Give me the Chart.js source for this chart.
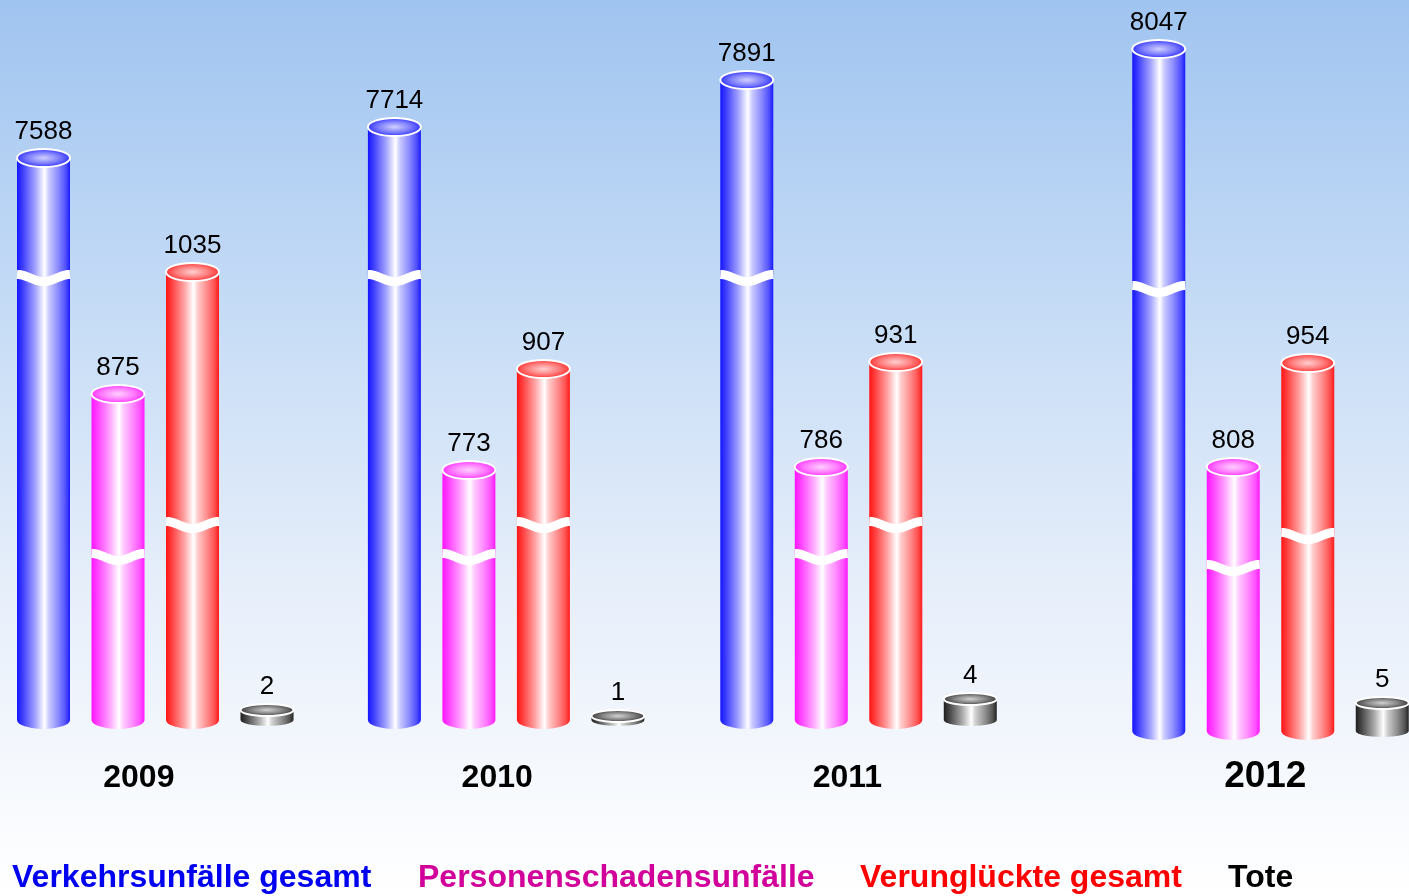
<!DOCTYPE html>
<html lang="de">
<head>
<meta charset="utf-8">
<title>Verkehrsunfälle 2009 - 2012</title>
<script src="https://cdn.jsdelivr.net/npm/chart.js@4"></script>
<style>
    html, body { margin: 0; padding: 0; background: #ffffff; overflow: hidden; }
    #unfallChart { display: block; }
</style>
</head>
<body>
<canvas id="unfallChart" width="1409" height="896"></canvas>
<script>
// Werte (Beschriftungen) je Jahr
const years = ['2009', '2010', '2011', '2012'];
const verkehrsunfaelle = [7588, 7714, 7891, 8047];
const personenschaden = [875, 773, 786, 808];
const verunglueckte = [1035, 907, 931, 954];
const tote = [2, 1, 4, 5];

// gezeichnete Säulenhöhen auf der unterbrochenen Achse (nicht maßstäblich)
const hoeheVerkehr = [562, 593, 640, 682];
const hoehePerson = [326, 250, 253, 264];
const hoeheVerungl = [448, 351, 358, 368];
const hoeheTote = [10, 4, 21, 28];

// Höhe der weißen Achsenbruch-Markierung je Reihe (gleiche Einheit)
const bruchHoehe = [442, 163, 195, null];

// Layout: Lage der Gruppen auf der x-Achse (eine Einheit = eine Säulenbreite + Abstand)
const groupStart = [0, 4.71, 9.44, 14.97];
const groupBase = [0, 0, 0, -11];
const yearShift = [1.28, 1.38, 1.35, 1.43];
const yearFontSize = [32, 32, 32, 37];

const series = [
    { label: 'Verkehrsunfälle gesamt', values: verkehrsunfaelle, heights: hoeheVerkehr, color: [20, 20, 255], text: '#0000f0', legendX: 12 },
    { label: 'Personenschadensunfälle', values: personenschaden, heights: hoehePerson, color: [255, 20, 255], text: '#d2009a', legendX: 418 },
    { label: 'Verunglückte gesamt', values: verunglueckte, heights: hoeheVerungl, color: [255, 20, 20], text: '#ff0000', legendX: 860 },
    { label: 'Tote', values: tote, heights: hoeheTote, color: [30, 30, 30], text: '#000000', legendX: 1228 }
];

function mix(c, t) {
    // Farbe c mit Weiß mischen, t = Anteil Weiß
    const r = Math.round(c[0] + (255 - c[0]) * t);
    const g = Math.round(c[1] + (255 - c[1]) * t);
    const b = Math.round(c[2] + (255 - c[2]) * t);
    return `rgb(${r}, ${g}, ${b})`;
}

/**
 * Zeichnet eine Säule als Zylinder mit Deckel, Boden und Bruchmarke
 */
function drawCylinder(ctx, cx, top, base, w, color, ry, breakY) {
    const rx = w / 2;
    const left = cx - rx;
    const right = cx + rx;

    // Mantel
    const grad = ctx.createLinearGradient(left, 0, right, 0);
    grad.addColorStop(0, mix(color, 0));
    grad.addColorStop(0.12, mix(color, 0.2));
    grad.addColorStop(0.35, mix(color, 0.62));
    grad.addColorStop(0.52, mix(color, 1));
    grad.addColorStop(0.6, mix(color, 0.78));
    grad.addColorStop(0.78, mix(color, 0.5));
    grad.addColorStop(0.92, mix(color, 0.25));
    grad.addColorStop(1, mix(color, 0.02));
    ctx.beginPath();
    ctx.moveTo(left, top);
    ctx.lineTo(left, base);
    ctx.ellipse(cx, base, rx, ry, 0, Math.PI, 0, true);
    ctx.lineTo(right, top);
    ctx.closePath();
    ctx.fillStyle = grad;
    ctx.fill();

    // Achsenbruch
    if (breakY !== null) {
        ctx.beginPath();
        for (let i = 0; i <= 30; i++) {
            const t = i / 30;
            const x = left + t * w;
            const y = breakY - 3.5 * Math.cos(2 * Math.PI * t);
            if (i === 0) ctx.moveTo(x, y); else ctx.lineTo(x, y);
        }
        ctx.strokeStyle = '#ffffff';
        ctx.lineWidth = 9;
        ctx.lineCap = 'butt';
        ctx.stroke();
    }

    // Deckel
    ctx.save();
    ctx.translate(cx, top);
    ctx.scale(1, ry / rx);
    const rg = ctx.createRadialGradient(0, 0, 0, 0, 0, rx);
    rg.addColorStop(0, mix(color, 0.8));
    rg.addColorStop(0.6, mix(color, 0.45));
    rg.addColorStop(1, mix(color, 0.15));
    ctx.beginPath();
    ctx.arc(0, 0, rx, 0, Math.PI * 2);
    ctx.fillStyle = rg;
    ctx.fill();
    ctx.restore();
    ctx.beginPath();
    ctx.ellipse(cx, top, rx, ry, 0, 0, Math.PI * 2);
    ctx.strokeStyle = '#ffffff';
    ctx.lineWidth = 2;
    ctx.stroke();
}

const cylinderPlugin = {
    id: 'cylinders',
    beforeDraw(chart) {
        // Hintergrundverlauf
        const ctx = chart.ctx;
        const g = ctx.createLinearGradient(0, 0, 0, chart.height);
        g.addColorStop(0, '#a0c4f0');
        g.addColorStop(0.35, '#c6dcf6');
        g.addColorStop(0.65, '#e6eefa');
        g.addColorStop(1, '#ffffff');
        ctx.save();
        ctx.fillStyle = g;
        ctx.fillRect(0, 0, chart.width, chart.height);
        ctx.restore();
    },
    afterDatasetsDraw(chart) {
        const ctx = chart.ctx;
        const yScale = chart.scales.y;
        ctx.save();
        series.forEach((s, d) => {
            const meta = chart.getDatasetMeta(d);
            meta.data.forEach((bar, i) => {
                const props = bar.getProps(['x', 'y', 'base', 'width'], true);
                const ry = d === 3 ? 6 : 9;
                const breakY = bruchHoehe[d] === null ? null
                    : yScale.getPixelForValue(groupBase[i] + bruchHoehe[d]);
                drawCylinder(ctx, props.x, props.y, props.base, props.width, s.color, ry, breakY);

                // Wertbeschriftung
                ctx.fillStyle = '#000000';
                ctx.font = '26px "Liberation Sans", Arial, sans-serif';
                ctx.textAlign = 'center';
                ctx.textBaseline = 'alphabetic';
                ctx.fillText(String(s.values[i]), props.x, props.y - ry - 10);
            });
        });
        ctx.restore();
    },
    afterDraw(chart) {
        const ctx = chart.ctx;
        const xScale = chart.scales.x;
        ctx.save();
        // Jahreszahlen
        ctx.fillStyle = '#000000';
        ctx.textAlign = 'center';
        ctx.textBaseline = 'alphabetic';
        years.forEach((year, i) => {
            ctx.font = `bold ${yearFontSize[i]}px "Liberation Sans", Arial, sans-serif`;
            ctx.fillText(year, xScale.getPixelForValue(groupStart[i] + yearShift[i]), 787);
        });
        // Legende
        ctx.textAlign = 'left';
        ctx.font = 'bold 32px "Liberation Sans", Arial, sans-serif';
        series.forEach(s => {
            ctx.fillStyle = s.text;
            ctx.fillText(s.label, s.legendX, 887);
        });
        ctx.restore();
    }
};

document.addEventListener('DOMContentLoaded', function() {
    const datasets = series.map((s, d) => ({
        label: s.label,
        data: s.heights.map((h, i) => ({ x: groupStart[i] + d, y: [groupBase[i], groupBase[i] + h] })),
        backgroundColor: 'rgba(0, 0, 0, 0)',
        borderWidth: 0,
        barThickness: 53,
        grouped: false
    }));

    new Chart(document.getElementById('unfallChart'), {
        type: 'bar',
        data: { datasets },
        options: {
            responsive: false,
            animation: false,
            devicePixelRatio: 1,
            layout: { padding: { top: 0, bottom: 156, left: 0, right: 0 } },
            scales: {
                x: { type: 'linear', min: -0.584, max: 18.329, offset: false, display: false },
                y: { min: -20, max: 720, display: false }
            },
            plugins: {
                legend: { display: false },
                tooltip: { enabled: false }
            }
        },
        plugins: [cylinderPlugin]
    });
});
</script>
</body>
</html>
